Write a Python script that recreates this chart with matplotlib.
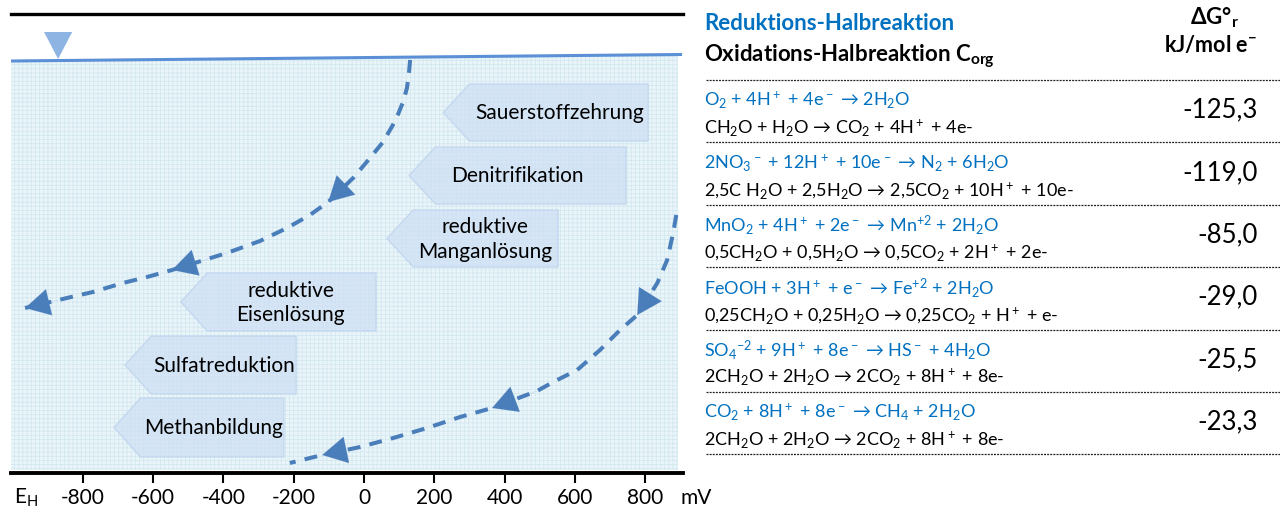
import matplotlib
matplotlib.use('Agg')
import matplotlib.pyplot as plt
from matplotlib.patches import Polygon
import numpy as np

plt.rcParams['font.family'] = ['Lato', 'DejaVu Sans']
plt.rcParams['mathtext.fontset'] = 'custom'
plt.rcParams['mathtext.rm'] = 'Lato'
plt.rcParams['mathtext.bf'] = 'Lato:bold'
plt.rcParams['mathtext.default'] = 'regular'
plt.rcParams['hatch.linewidth'] = 0.6

# --- left diagram: redox zones along E_H (mV) vs. depth (top = 0 at water table line)
ticks = [-800, -600, -400, -200, 0, 200, 400, 600, 800]

zone_names = ['Sauerstoffzehrung', 'Denitrifikation', 'reduktive\nManganlösung',
              'reduktive\nEisenlösung', 'Sulfatreduktion', 'Methanbildung']
zone_tip = [225, 128, 65, -521, -680, -711]       # mV, arrow point
zone_right = [808, 745, 552, 34, -193, -228]      # mV
zone_top = [84, 147, 210, 273, 336, 398]
zone_bottom = [141, 204, 267, 331, 394, 457]
label_x = [556, 435, 344, -208, -398, -427]

# dashed pathways
c1_x = [131, 128, 122, 111, 97, 82, 54, 17, -31, -102, -154, -219, -296, -390, -546,
        -617, -686, -771, -845, -964]
c1_y = [60, 72, 88, 102, 114, 125, 142, 158, 178, 202, 215, 228, 241, 253, 270,
        277, 283, 292, 298, 308]
c1_heads = [9, 14, 19]
c2_x = [888, 879, 862, 834, 777, 728, 671, 606, 538, 492, 364, 273, 179,
        83, -11, -119, -211]
c2_y = [215, 233, 260, 283, 315, 330, 350, 370, 382, 391, 408, 417, 428,
        438, 447, 455, 463]
c2_heads = [4, 10, 15]

# --- right table
reductions = [
    r'O$_2$ + 4H$^+$ + 4e$^-$ → 2H$_2$O',
    r'2NO$_3$$^-$ + 12H$^+$ + 10e$^-$ → N$_2$ + 6H$_2$O',
    r'MnO$_2$ + 4H$^+$ + 2e$^-$ → Mn$^{+2}$ + 2H$_2$O',
    r'FeOOH + 3H$^+$ + e$^-$ → Fe$^{+2}$ + 2H$_2$O',
    r'SO$_4$$^{-2}$ + 9H$^+$ + 8e$^-$ → HS$^-$ + 4H$_2$O',
    r'CO$_2$ + 8H$^+$ + 8e$^-$ → CH$_4$ + 2H$_2$O',
]
oxidations = [
    r'CH$_2$O + H$_2$O → CO$_2$ + 4H$^+$ + 4e-',
    r'2,5C H$_2$O + 2,5H$_2$O → 2,5CO$_2$ + 10H$^+$ + 10e-',
    r'0,5CH$_2$O + 0,5H$_2$O → 0,5CO$_2$ + 2H$^+$ + 2e-',
    r'0,25CH$_2$O + 0,25H$_2$O → 0,25CO$_2$ + H$^+$ + e-',
    r'2CH$_2$O + 2H$_2$O → 2CO$_2$ + 8H$^+$ + 8e-',
    r'2CH$_2$O + 2H$_2$O → 2CO$_2$ + 8H$^+$ + 8e-',
]
delta_g = [-125.3, -119.0, -85.0, -29.0, -25.5, -23.3]

W, H = 1280, 509
fig = plt.figure(figsize=(W / 100, H / 100), dpi=100)

def px(x, y):
    return x / W, 1 - y / H

ax = fig.add_axes([11 / W, 1 - 473 / H, 672 / W, 459 / H])
ax.set_xlim(-1004, 907)
ax.set_ylim(473, 14)

# shaded aquifer
ax.fill_between([-1004, 893], [61, 54.5], 470, facecolor='#eaf5f9',
                edgecolor='#d3e8f0', hatch='++++', lw=0, zorder=0)
ax.plot([-1004, 900], [61, 54.5], color='#5b8fd6', lw=2.2, zorder=2)
ax.add_patch(Polygon([(-910, 32), (-830, 32), (-870, 59)], closed=True,
                     facecolor='#8db4e2', edgecolor='none', zorder=3))

for i, name in enumerate(zone_names):
    t, b = zone_top[i], zone_bottom[i]
    pts = [(zone_tip[i], (t + b) / 2), (zone_tip[i] + 75, t), (zone_right[i], t),
           (zone_right[i], b), (zone_tip[i] + 75, b)]
    ax.add_patch(Polygon(pts, closed=True, facecolor='#cfe0f4', alpha=0.75,
                         edgecolor='#bcd2ee', lw=1, zorder=1))
    ax.text(label_x[i], (t + b) / 2 + 1, name, ha='center', va='center',
            fontsize=15, linespacing=1.3, zorder=4)

blue = '#4a7ebb'
for xs, ys, heads in [(c1_x, c1_y, c1_heads), (c2_x, c2_y, c2_heads)]:
    ax.plot(xs, ys, color=blue, lw=2.9, ls=(0, (3.2, 2.3)), zorder=5)
    for h in heads:
        ax.annotate('', xy=(xs[h], ys[h]), xytext=(xs[h - 1], ys[h - 1]),
                    arrowprops=dict(arrowstyle='-|>,head_length=0.55,head_width=0.3',
                                    mutation_scale=32, color=blue, lw=0.1,
                                    shrinkA=0, shrinkB=0),
                    zorder=6)

for s in ['left', 'right']:
    ax.spines[s].set_visible(False)
ax.spines['top'].set_linewidth(2.4)
ax.spines['bottom'].set_linewidth(2.8)
ax.set_yticks([])
ax.set_xticks(ticks)
ax.set_xticklabels([str(t) for t in ticks])
ax.tick_params(axis='x', length=7, width=1.5, labelsize=15, pad=4)
fig.text(*px(14, 498), r'E$_\mathrm{H}$', fontsize=15, va='center')
fig.text(*px(680, 498), 'mV', fontsize=15, va='center')

# table
tblue = '#0070c0'
fig.text(*px(704, 23), 'Reduktions-Halbreaktion', color=tblue, fontsize=16,
         fontweight='bold', va='center')
fig.text(*px(704, 56), r'Oxidations-Halbreaktion C$_{\mathbf{org}}$', fontsize=16,
         fontweight='bold', va='center')
fig.text(*px(1214, 18), r'$\Delta$G°$_{\mathbf{r}}$', fontsize=16,
         fontweight='bold', va='center', ha='center')
fig.text(*px(1211, 45), r'kJ/mol e$^{\mathbf{-}}$', fontsize=15.5,
         fontweight='bold', va='center', ha='center')

for i in range(7):
    y = 80 + 62.4 * i
    fig.add_artist(plt.Line2D([706 / W, 1], [1 - y / H] * 2, color='#222222',
                              lw=0.9, ls=(0, (1.6, 0.9))))
for i in range(6):
    y = 80 + 62.4 * i
    fig.text(*px(704, y + 20.5), reductions[i], color=tblue, fontsize=13,
             va='center')
    fig.text(*px(704, y + 48), oxidations[i], color='black', fontsize=13,
             va='center')
    fig.text(*px(1258, y + 30), ('%.1f' % delta_g[i]).replace('.', ','),
             fontsize=18.5, ha='right', va='center')

plt.savefig('out.png', dpi=100)
